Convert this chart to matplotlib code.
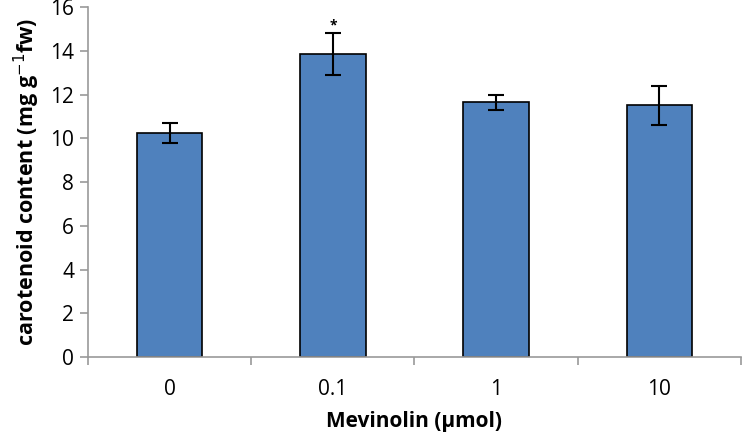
import matplotlib
matplotlib.use('Agg')
import matplotlib.pyplot as plt
import numpy as np

# data
categories = ['0', '0.1', '1', '10']
values = [10.25, 13.85, 11.65, 11.5]
errors = [0.45, 0.95, 0.35, 0.9]
marks = ['', '*', '', '']

plt.rcParams['font.family'] = ['Open Sans', 'DejaVu Sans']

fig = plt.figure(figsize=(7.42, 4.36), dpi=100)
ax = fig.add_axes([88/742, 1-357/436, 653/742, 350/436])

x = np.arange(len(categories))
ax.bar(x, values, width=0.4, color='#4f81bd', edgecolor='black', linewidth=1.2,
       yerr=errors, capsize=6, error_kw={'elinewidth': 1.5, 'capthick': 1.5}, zorder=2)
for xi, v, e, m in zip(x, values, errors, marks):
    if m:
        ax.text(xi, v + e + 0.05, m, ha='center', va='bottom', fontsize=10, fontweight='bold')

ax.set_xlim(-0.5, len(categories) - 0.5)
ax.set_ylim(0, 16)
ax.set_yticks(range(0, 17, 2))
ax.set_xticks(x)
ax.set_xticklabels(categories)
# category separators on x axis
ax.set_xticks(np.arange(-0.5, len(categories), 1), minor=True)
ax.tick_params(axis='x', which='major', length=0, pad=16, labelsize=15)
ax.tick_params(axis='x', which='minor', length=6, color='#999999', width=1.2)
ax.tick_params(axis='y', length=6, color='#999999', width=1.2, labelsize=15, direction='out', pad=4)

for s in ['top', 'right']:
    ax.spines[s].set_visible(False)
for s in ['left', 'bottom']:
    ax.spines[s].set_color('#999999')
    ax.spines[s].set_linewidth(1.2)

ax.set_xlabel('Mevinolin (μmol)', fontsize=15, fontweight='bold', labelpad=8)
ax.set_ylabel('carotenoid content (mg g$^{-1}$fw)', fontsize=15.5, fontweight='bold', labelpad=6)

fig.savefig('out.png', dpi=100)
